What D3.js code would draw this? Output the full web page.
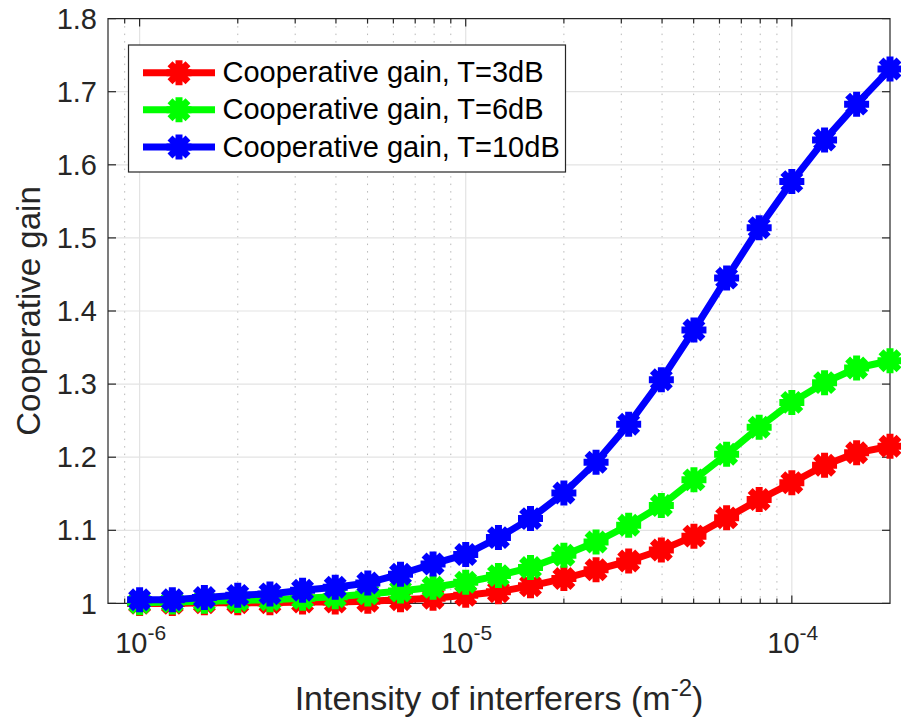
<!DOCTYPE html>
<html>
<head>
<meta charset="utf-8">
<script src="https://cdn.jsdelivr.net/npm/d3@7"></script>
<style>
  html, body { margin: 0; padding: 0; background: #fff; }
  svg { display: block; font-family: "Liberation Sans", Arial, Helvetica, sans-serif; }
</style>
</head>
<body>
<svg id="chart" width="901" height="722"></svg>
<script>
// Intensity of interferers (m^-2), log-spaced sample points
const intensity = [1.00e-6, 1.26e-6, 1.58e-6, 2.00e-6, 2.51e-6, 3.16e-6, 3.98e-6, 5.01e-6,
                   6.31e-6, 7.94e-6, 1.00e-5, 1.26e-5, 1.58e-5, 2.00e-5, 2.51e-5, 3.16e-5,
                   3.98e-5, 5.01e-5, 6.31e-5, 7.94e-5, 1.00e-4, 1.26e-4, 1.58e-4, 2.00e-4];

// Cooperative gain for each SIR threshold T
const gainT3  = [1.000, 1.000, 1.001, 1.001, 1.001, 1.002, 1.002, 1.003, 1.005, 1.007, 1.011, 1.016,
                 1.024, 1.034, 1.046, 1.058, 1.073, 1.092, 1.117, 1.142, 1.165, 1.189, 1.206, 1.215];
const gainT6  = [1.001, 1.002, 1.003, 1.004, 1.005, 1.007, 1.009, 1.013, 1.017, 1.022, 1.029, 1.038,
                 1.049, 1.066, 1.084, 1.107, 1.134, 1.169, 1.204, 1.241, 1.275, 1.302, 1.322, 1.332];
const gainT10 = [1.005, 1.005, 1.008, 1.011, 1.013, 1.018, 1.022, 1.028, 1.040, 1.054, 1.067, 1.090,
                 1.116, 1.151, 1.193, 1.245, 1.306, 1.374, 1.445, 1.514, 1.577, 1.634, 1.683, 1.731];

const seriesNames  = ["Cooperative gain, T=3dB", "Cooperative gain, T=6dB", "Cooperative gain, T=10dB"];
const seriesValues = [gainT3, gainT6, gainT10];
const seriesColors = ["#ff0000", "#00ff00", "#0000ff"];

const yTicks      = [1, 1.1, 1.2, 1.3, 1.4, 1.5, 1.6, 1.7, 1.8];
const yTickLabels = ["1", "1.1", "1.2", "1.3", "1.4", "1.5", "1.6", "1.7", "1.8"];
const xTicks      = [1e-6, 1e-5, 1e-4];
const xTickExps   = ["-6", "-5", "-4"];
const xDomain = [8e-7, 2e-4];
const yDomain = [1, 1.8];

const xLabel = "Intensity of interferers (m";
const xLabelSup = "-2";
const yLabel = "Cooperative gain";

// Layout
const plot = { left: 108, right: 890, top: 18.6, bottom: 603.4 };
const axisColor = "#262626";
const tickFont = 29, labelFont = 34, legendFont = 29;

const svg = d3.select("#chart");
svg.append("rect").attr("width", 901).attr("height", 722).attr("fill", "#fff");

const x = d3.scaleLog().domain(xDomain).range([plot.left, plot.right]);
const y = d3.scaleLinear().domain(yDomain).range([plot.bottom, plot.top]);

const isDecade = v => Math.abs(Math.log10(v) - Math.round(Math.log10(v))) < 1e-9;
const minorX = x.ticks().filter(v => !isDecade(v) && v > xDomain[0] * 1.0001 && v < xDomain[1] * 0.9999);

// Grid
const grid = svg.append("g");
grid.selectAll(".gx-minor").data(minorX).join("line")
  .attr("x1", d => x(d)).attr("x2", d => x(d))
  .attr("y1", plot.top).attr("y2", plot.bottom)
  .attr("stroke", "#b8b8b8").attr("stroke-width", 1).attr("stroke-dasharray", "1.5,6");
grid.selectAll(".gx").data(xTicks).join("line")
  .attr("x1", d => x(d)).attr("x2", d => x(d))
  .attr("y1", plot.top).attr("y2", plot.bottom)
  .attr("stroke", "#e3e3e3").attr("stroke-width", 1.2);
grid.selectAll(".gy").data(yTicks).join("line")
  .attr("x1", plot.left).attr("x2", plot.right)
  .attr("y1", d => y(d)).attr("y2", d => y(d))
  .attr("stroke", "#e3e3e3").attr("stroke-width", 1.2);

// Axes box and ticks
const axes = svg.append("g").attr("stroke", axisColor).attr("stroke-width", 1.2);
axes.append("rect")
  .attr("x", plot.left).attr("y", plot.top)
  .attr("width", plot.right - plot.left).attr("height", plot.bottom - plot.top)
  .attr("fill", "none");
const majorLen = 8, minorLen = 5;
[[plot.bottom, -1], [plot.top, 1]].forEach(([yy, dir]) => {
  axes.selectAll(null).data(xTicks).join("line")
    .attr("x1", d => x(d)).attr("x2", d => x(d))
    .attr("y1", yy).attr("y2", yy + dir * majorLen);
  axes.selectAll(null).data(minorX).join("line")
    .attr("x1", d => x(d)).attr("x2", d => x(d))
    .attr("y1", yy).attr("y2", yy + dir * minorLen);
});
[[plot.left, 1], [plot.right, -1]].forEach(([xx, dir]) => {
  axes.selectAll(null).data(yTicks).join("line")
    .attr("x1", xx).attr("x2", xx + dir * majorLen)
    .attr("y1", d => y(d)).attr("y2", d => y(d));
});

// Tick labels
svg.append("g").selectAll("text").data(yTicks).join("text")
  .attr("x", plot.left - 11).attr("y", d => y(d) + tickFont * 0.35)
  .attr("text-anchor", "end").attr("font-size", tickFont).attr("fill", axisColor)
  .text((d, i) => yTickLabels[i]);

const xt = svg.append("g").selectAll("text").data(xTicks).join("text")
  .attr("x", d => x(d) + 1).attr("y", 653)
  .attr("text-anchor", "middle").attr("font-size", tickFont).attr("fill", axisColor);
xt.append("tspan").text("10");
xt.append("tspan").attr("dy", -13).attr("font-size", 21).text((d, i) => xTickExps[i]);

// Axis labels
const xl = svg.append("text")
  .attr("x", (plot.left + plot.right) / 2).attr("y", 710)
  .attr("text-anchor", "middle").attr("font-size", labelFont).attr("fill", axisColor);
xl.append("tspan").text(xLabel);
xl.append("tspan").attr("dy", -14).attr("font-size", 24).text(xLabelSup);
xl.append("tspan").attr("dy", 14).text(")");

svg.append("text")
  .attr("transform", `translate(40,${(plot.top + plot.bottom) / 2}) rotate(-90)`)
  .attr("text-anchor", "middle").attr("font-size", labelFont - 1).attr("fill", axisColor)
  .text(yLabel);

// Eight-arm asterisk marker
function asterisk(r) {
  const p = d3.path();
  const d = r * 0.72;
  p.moveTo(-r, 0); p.lineTo(r, 0);
  p.moveTo(0, -r); p.lineTo(0, r);
  p.moveTo(-d, -d); p.lineTo(d, d);
  p.moveTo(-d, d); p.lineTo(d, -d);
  return p.toString();
}
const markerPath = asterisk(12.5);
const lineW = 7, markerW = 7;

// Series
const line = d3.line().x(d => x(d[0])).y(d => y(d[1]));
seriesValues.forEach((vals, si) => {
  const pts = intensity.map((v, i) => [v, vals[i]]);
  const g = svg.append("g");
  g.append("path").attr("d", line(pts))
    .attr("fill", "none").attr("stroke", seriesColors[si])
    .attr("stroke-width", lineW).attr("stroke-linejoin", "round");
  g.selectAll("path.m").data(pts).join("path").attr("class", "m")
    .attr("transform", d => `translate(${x(d[0])},${y(d[1])})`)
    .attr("d", markerPath).attr("fill", "none")
    .attr("stroke", seriesColors[si]).attr("stroke-width", markerW);
});

// Legend
const leg = svg.append("g");
leg.append("rect").attr("x", 128.5).attr("y", 45).attr("width", 437).attr("height", 127)
  .attr("fill", "#fff").attr("stroke", axisColor).attr("stroke-width", 1.2);
const legY = [72.7, 109.8, 147];
seriesNames.forEach((name, i) => {
  const row = leg.append("g").attr("transform", `translate(0,${legY[i]})`);
  row.append("line").attr("x1", 143).attr("x2", 215).attr("y1", 0).attr("y2", 0)
    .attr("stroke", seriesColors[i]).attr("stroke-width", lineW);
  row.append("path").attr("transform", "translate(179,0)").attr("d", markerPath)
    .attr("fill", "none").attr("stroke", seriesColors[i]).attr("stroke-width", markerW);
  row.append("text").attr("x", 222.5).attr("y", 9.5)
    .attr("font-size", legendFont).attr("fill", "#000").text(name);
});
</script>
</body>
</html>
